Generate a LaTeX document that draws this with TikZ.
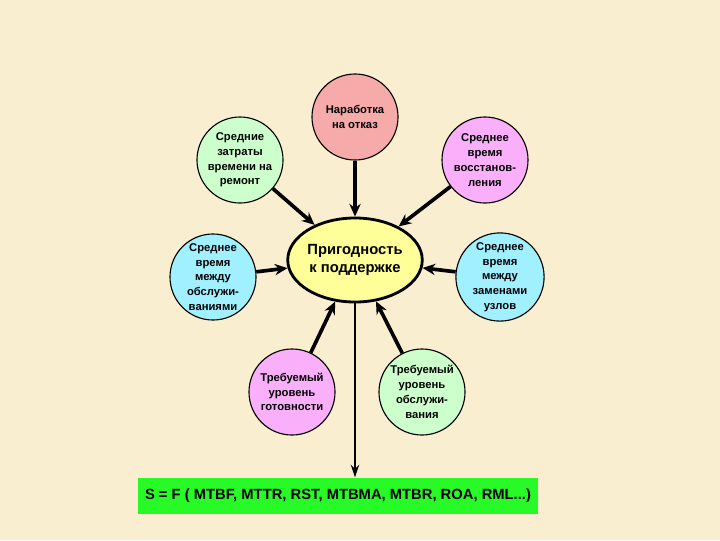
\documentclass[tikz,border=0pt]{standalone}
\usepackage{fontspec}
\setmainfont{Liberation Sans}
\usetikzlibrary{arrows.meta,shapes.geometric}
\definecolor{bgbeige}{RGB}{250,238,208}
\definecolor{pinkc}{RGB}{246,170,170}
\definecolor{greenc}{RGB}{204,255,204}
\definecolor{violetc}{RGB}{250,175,250}
\definecolor{cyanc}{RGB}{160,240,255}
\definecolor{yellowc}{RGB}{255,255,153}
\definecolor{boxgreen}{RGB}{40,250,40}
\begin{document}
\begin{tikzpicture}[x=0.025cm,y=-0.025cm,
  factor/.style={circle,draw,thick,minimum size=2.15cm,inner sep=0pt,align=center,font=\bfseries\fontsize{8}{10.5}\selectfont},
  centre/.style={ellipse,draw,line width=2pt,minimum width=3.25cm,minimum height=2.1cm,inner sep=0pt,fill=yellowc,align=center,font=\bfseries\fontsize{10.5}{13}\selectfont},
  arr/.style={line width=2.6pt,-{Stealth[length=9pt,width=8pt]}},
  thinarr/.style={line width=1.3pt,-{Stealth[length=9pt,width=6pt]}}]
\fill[bgbeige] (0,0) rectangle (720,540);
\useasboundingbox (0,0) rectangle (720,540);
% central node
\node[centre] (c) at (355,260) {Пригодность\\к поддержке};
% factors
\node[factor,fill=pinkc] (mtbf) at (355,117) {Наработка\\на отказ};
\node[factor,fill=greenc] (rep) at (240,160) {Средние\\затраты\\времени на\\ремонт};
\node[factor,fill=violetc] (mttr) at (485,160) {Среднее\\время\\восстанов-\\ления};
\node[factor,fill=cyanc] (mtbma) at (213,277) {Среднее\\время\\между\\обслужи-\\ваниями};
\node[factor,fill=cyanc] (mtbr) at (500,277) {Среднее\\время\\между\\заменами\\узлов};
\node[factor,fill=violetc] (roa) at (292,392) {Требуемый\\уровень\\готовности};
\node[factor,fill=greenc] (rml) at (422,392) {Требуемый\\уровень\\обслужи-\\вания};
% result
\node[fill=boxgreen,minimum width=10cm,minimum height=0.92cm,font=\bfseries\fontsize{10.5}{13}\selectfont] (s) at (338,496) {S = F ( MTBF, MTTR, RST, MTBMA, MTBR, ROA, RML...)};
% arrows
\foreach \f in {mtbf,rep,mttr,mtbma,mtbr,roa,rml}
  \draw[arr] (\f) -- (c);
\draw[thinarr] (c.south) -- (c.south |- s.north);
\end{tikzpicture}
\end{document}
